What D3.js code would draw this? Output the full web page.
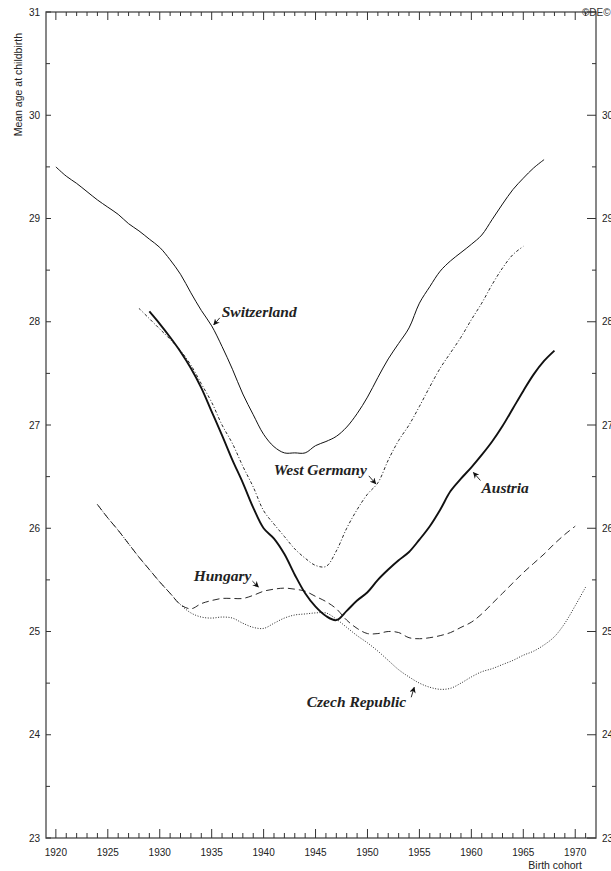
<!DOCTYPE html>
<html><head><meta charset="utf-8">
<script src="https://cdn.jsdelivr.net/npm/d3@7/dist/d3.min.js"></script>
<style>body{margin:0;background:#fff;}svg{display:block;}</style>
</head><body>
<svg id="c" width="611" height="871"></svg>
<script>
const xTicks = [1920,1925,1930,1935,1940,1945,1950,1955,1960,1965,1970];
const yTicks = [23,24,25,26,27,28,29,30,31];
const yTicksRight = [23,24,25,26,27,28,29,30];

const switzerlandYears = d3.range(1920, 1968);
const switzerland = [29.50,29.41,29.34,29.26,29.18,29.11,29.04,28.95,28.88,28.80,28.72,28.60,28.46,28.28,28.11,27.96,27.76,27.54,27.30,27.10,26.91,26.79,26.73,26.73,26.73,26.80,26.84,26.89,26.98,27.11,27.27,27.46,27.64,27.79,27.94,28.18,28.34,28.49,28.59,28.67,28.75,28.84,28.99,29.14,29.28,29.39,29.49,29.57];

const austriaYears = d3.range(1929, 1969);
const austria = [28.10,27.98,27.85,27.71,27.55,27.36,27.13,26.90,26.66,26.44,26.20,26.00,25.90,25.75,25.55,25.37,25.24,25.15,25.11,25.20,25.30,25.38,25.50,25.60,25.69,25.77,25.89,26.02,26.18,26.36,26.48,26.59,26.71,26.84,26.99,27.16,27.33,27.49,27.62,27.72];

const westGermanyYears = d3.range(1928, 1966);
const westGermany = [28.13,28.03,27.93,27.83,27.72,27.58,27.40,27.22,27.00,26.82,26.60,26.40,26.17,26.04,25.92,25.80,25.71,25.64,25.63,25.78,26.00,26.18,26.33,26.44,26.66,26.85,27.00,27.18,27.37,27.55,27.70,27.85,28.02,28.18,28.36,28.52,28.65,28.73];

const hungaryYears = d3.range(1924, 1971);
const hungary = [26.23,26.10,25.98,25.85,25.72,25.60,25.48,25.37,25.26,25.22,25.27,25.30,25.32,25.32,25.32,25.35,25.39,25.41,25.42,25.41,25.39,25.34,25.29,25.22,25.11,25.03,24.98,24.98,25.00,24.99,24.94,24.93,24.94,24.96,24.99,25.04,25.09,25.17,25.27,25.37,25.47,25.57,25.66,25.75,25.85,25.94,26.02];

const czechYears = d3.range(1924, 1972);
const czech = [26.23,26.10,25.98,25.85,25.72,25.60,25.48,25.37,25.26,25.18,25.14,25.13,25.14,25.13,25.08,25.04,25.03,25.08,25.13,25.16,25.17,25.18,25.18,25.12,25.04,24.96,24.89,24.81,24.72,24.63,24.56,24.50,24.46,24.44,24.45,24.50,24.56,24.61,24.64,24.68,24.72,24.77,24.81,24.87,24.95,25.08,25.25,25.43];

const seriesNames = ["Switzerland","West Germany","Austria","Hungary","Czech Republic"];

const svg = d3.select("#c");
const L = 46, R = 596, T = 12, B = 838;
const x = d3.scaleLinear().domain([1919.05, 1972]).range([L, R]);
const y = d3.scaleLinear().domain([23, 31]).range([B, T]);

const axisColor = "#555";
const font = "Liberation Sans, Arial, sans-serif";

// Frame
svg.append("rect").attr("x", L).attr("y", T).attr("width", R - L).attr("height", B - T)
  .attr("fill", "none").attr("stroke", axisColor).attr("stroke-width", 1.4);

// x ticks top/bottom
const years = d3.range(1920, 1972);
years.forEach(yr => {
  const major = yr % 5 === 0;
  svg.append("line").attr("x1", x(yr)).attr("x2", x(yr)).attr("y1", B).attr("y2", B - (major ? 9 : 5))
    .attr("stroke", "#333").attr("stroke-width", 1);
  svg.append("line").attr("x1", x(yr)).attr("x2", x(yr)).attr("y1", T).attr("y2", T + (major ? 8 : 4))
    .attr("stroke", "#333").attr("stroke-width", 1);
});
xTicks.forEach(t => {
  svg.append("text").attr("x", x(t)).attr("y", 856).attr("text-anchor", "middle")
    .attr("font-family", font).attr("font-size", 10).attr("fill", "#222").text(t);
});

// y ticks left/right
d3.range(23, 31.01, 0.5).forEach(v => {
  const major = Math.abs(v - Math.round(v)) < 1e-6;
  svg.append("line").attr("x1", L).attr("x2", L + (major ? 5 : 4)).attr("y1", y(v)).attr("y2", y(v))
    .attr("stroke", "#333").attr("stroke-width", 1);
  svg.append("line").attr("x1", R).attr("x2", R - (major ? 9 : 4)).attr("y1", y(v)).attr("y2", y(v))
    .attr("stroke", "#333").attr("stroke-width", 1);
});
yTicks.forEach(t => {
  svg.append("text").attr("x", 40).attr("y", y(t) + 3.5).attr("text-anchor", "end")
    .attr("font-family", font).attr("font-size", 10).attr("fill", "#222").text(t);
});
yTicksRight.forEach(t => {
  svg.append("text").attr("x", 602).attr("y", y(t) + 3.5).attr("text-anchor", "start")
    .attr("font-family", font).attr("font-size", 10).attr("fill", "#222").text(t);
});

// axis titles
svg.append("text").attr("transform", "translate(22,33) rotate(-90)").attr("text-anchor", "end")
  .attr("font-family", font).attr("font-size", 10.5).attr("fill", "#222").text("Mean age at childbirth");
svg.append("text").attr("x", 582).attr("y", 869).attr("text-anchor", "end")
  .attr("font-family", font).attr("font-size", 10.5).attr("fill", "#222").text("Birth cohort");
svg.append("text").attr("x", 582).attr("y", 16).attr("text-anchor", "start")
  .attr("font-family", font).attr("font-size", 10).attr("fill", "#333").text("©DE©");

// lines
const line = d3.line().x(d => x(d[0])).y(d => y(d[1])).curve(d3.curveCatmullRom.alpha(0.5));
function draw(yrs, vals, style) {
  const pts = yrs.map((yr, i) => [yr, vals[i]]);
  svg.append("path").datum(pts).attr("d", line).attr("fill", "none")
    .attr("stroke", "#111").attr("stroke-width", style.w)
    .attr("stroke-dasharray", style.dash || null);
}
draw(switzerlandYears, switzerland, {w: 1});
draw(westGermanyYears, westGermany, {w: 0.9, dash: "3,2,1,2"});
draw(austriaYears, austria, {w: 1.9});
draw(hungaryYears, hungary, {w: 0.9, dash: "7,4"});
draw(czechYears, czech, {w: 0.9, dash: "1,1.6"});

// labels with arrows
const defs = svg.append("defs");
defs.append("marker").attr("id", "ah").attr("viewBox", "0 0 10 10").attr("refX", 9).attr("refY", 5)
  .attr("markerWidth", 7).attr("markerHeight", 7).attr("orient", "auto")
  .append("path").attr("d", "M0,0 L10,5 L0,10 L3,5 Z").attr("fill", "#111");

const labelFont = "Liberation Serif, Times New Roman, serif";
function label(name, tipYr, tipAge, dx, dy, tx, ty, anchor) {
  const px = x(tipYr), py = y(tipAge);
  svg.append("line").attr("x1", px + dx).attr("y1", py + dy).attr("x2", px).attr("y2", py)
    .attr("stroke", "#111").attr("stroke-width", 0.9).attr("marker-end", "url(#ah)");
  svg.append("text").attr("x", px + tx).attr("y", py + ty).attr("text-anchor", anchor)
    .attr("font-family", labelFont).attr("font-style", "italic").attr("font-weight", "bold")
    .attr("font-size", 15.5).attr("fill", "#222").text(name);
}
label(seriesNames[0], 1935.2, 27.97, 6, -7, 8, -8, "start");
label(seriesNames[1], 1950.8, 26.43, -7, -8, -9, -9, "end");
label(seriesNames[2], 1960.2, 26.54, 7, 8, 8, 21, "start");
label(seriesNames[3], 1939.5, 25.43, -6, -6, -7, -6, "end");
label(seriesNames[4], 1954.5, 24.46, -3, 10, -8, 20, "end");
</script>
</body></html>
